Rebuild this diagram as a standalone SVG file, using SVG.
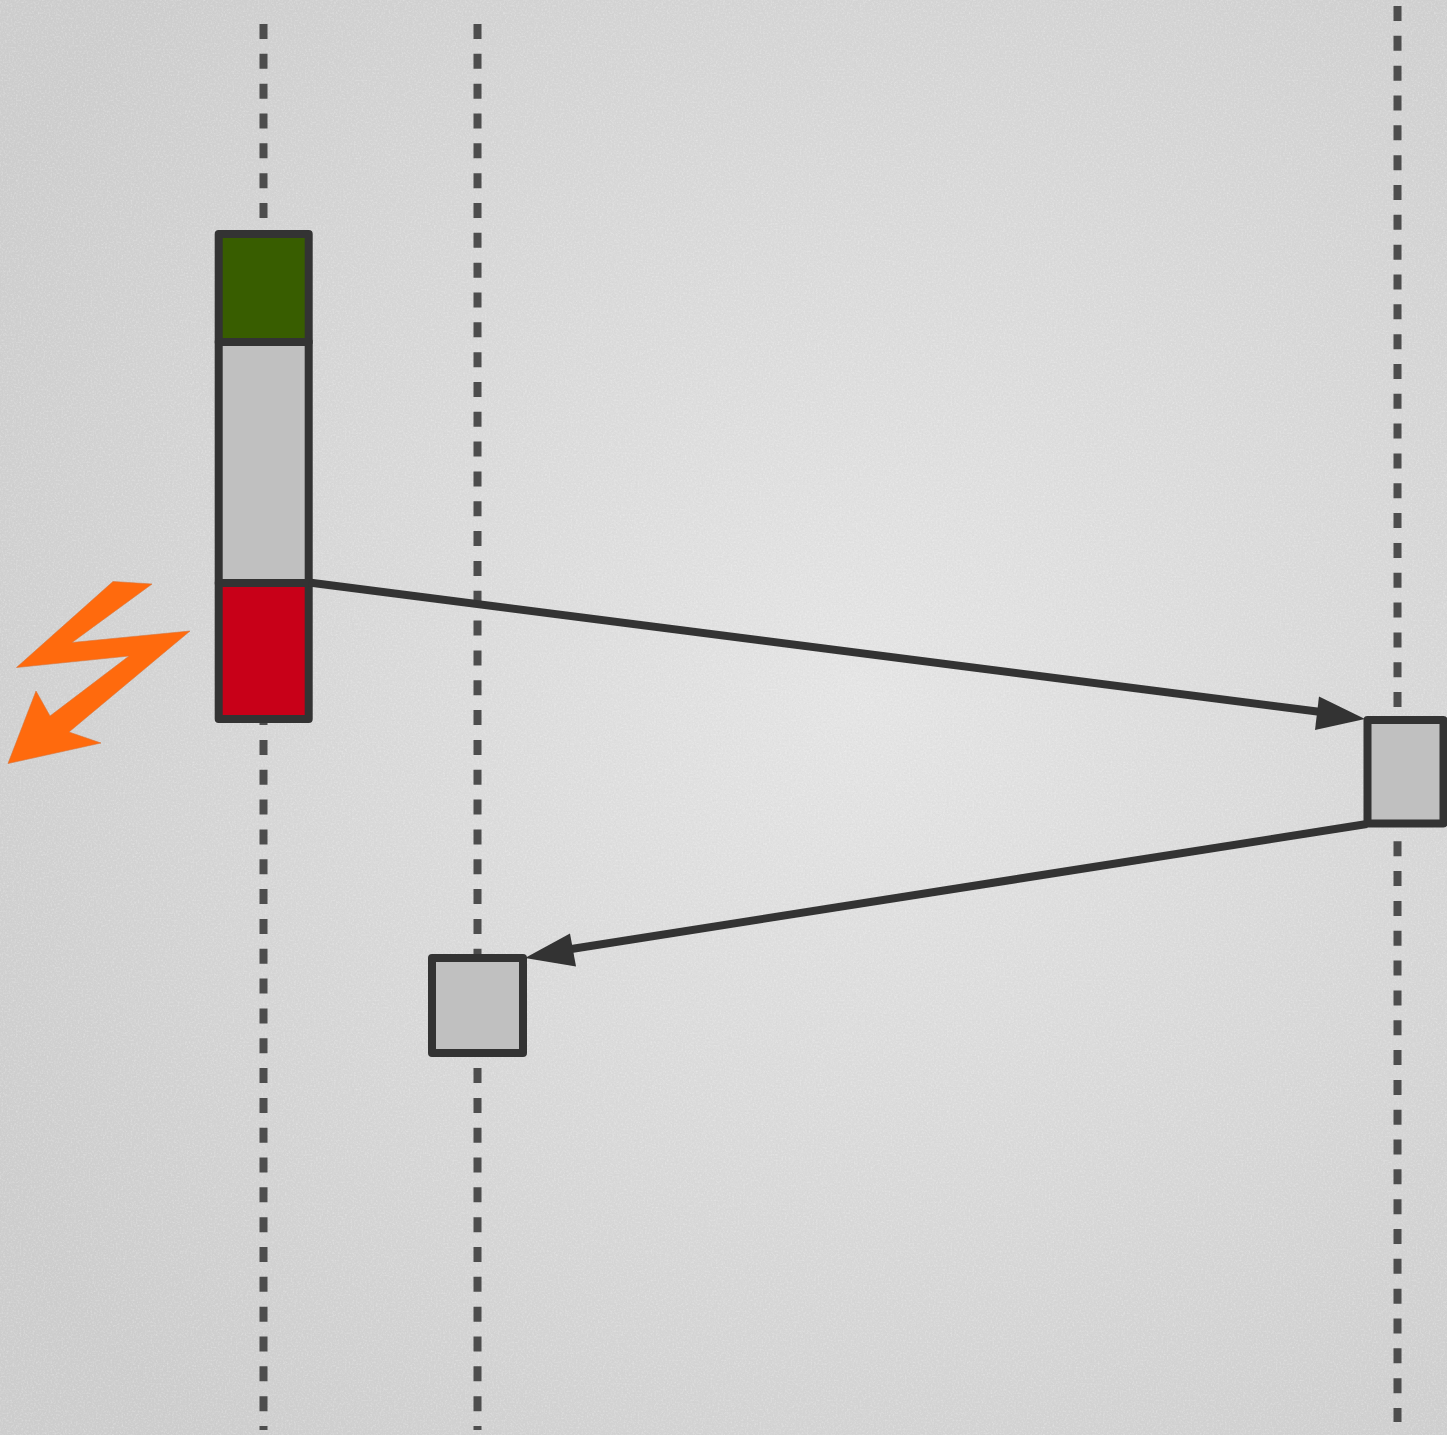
<svg xmlns="http://www.w3.org/2000/svg" width="1447" height="1435" viewBox="0 0 1447 1435">
<style>
.life{fill:none;stroke:#4d4d4d;stroke-width:8;stroke-dasharray:15 14.83}
.box{stroke:#333;stroke-width:8;stroke-linejoin:round}
.gray{fill:#c0c0c0}
.conn{fill:none;stroke:#333;stroke-width:8}
.head{fill:#333}
</style>
<defs>
<radialGradient id="bg" gradientUnits="userSpaceOnUse" cx="860" cy="690" r="1000">
<stop offset="0" stop-color="#e5e5e5"/>
<stop offset="1" stop-color="#cdcdcd"/>
</radialGradient>
<filter id="noiseLight" x="0" y="0" width="100%" height="100%">
<feTurbulence type="fractalNoise" baseFrequency="0.55" numOctaves="2" seed="3"/>
<feColorMatrix values="0 0 0 0 1 0 0 0 0 1 0 0 0 0 1 2 0 0 0 -0.9"/>
</filter>
<filter id="noiseDark" x="0" y="0" width="100%" height="100%">
<feTurbulence type="fractalNoise" baseFrequency="0.55" numOctaves="2" seed="8"/>
<feColorMatrix values="0 0 0 0 0.55 0 0 0 0 0.55 0 0 0 0 0.55 2 0 0 0 -0.9"/>
</filter>
</defs>
<g id="background">
<rect width="1447" height="1435" fill="url(#bg)"/>
<rect width="1447" height="1435" filter="url(#noiseLight)" opacity="0.3"/>
<rect width="1447" height="1435" filter="url(#noiseDark)" opacity="0.2"/>
</g>
<g id="lifelines">
<path class="life" d="M263.5 24V1430"/>
<path class="life" d="M477.500 24V1430"/>
<path class="life" d="M1397.500 6V1422"/>
</g>
<g id="bar-green"><rect class="box" x="218.700" y="234" width="90" height="108" fill="#385d00"/></g>
<g id="bar-gray"><rect class="box gray" x="218.700" y="342" width="90" height="241"/></g>
<g id="bar-red"><rect class="box" x="218.700" y="583" width="90" height="136" fill="#c80018"/></g>
<g id="box-right"><rect class="box gray" x="1367.500" y="720" width="76" height="103.500"/></g>
<g id="box-middle"><rect class="box gray" x="432" y="958" width="91" height="95"/></g>
<g id="connectors">
<path class="conn" d="M309 582.500L1325 712.500"/>
<path class="head" d="M1365 719L1319 696.500L1315 730Z"/>
<path class="conn" d="M1367 824L565 950"/>
<path class="head" d="M525 958L570 933.500L576 966.500Z"/>
</g>
<g id="lightning">
<path fill="#ff6a0d" stroke="#d8743a" stroke-width="0.6" d="M113 581.500L152 584L72 642.500L190 631L69 732L101 743L8 763.500L36 691L50 716L129 656L16.500 667.500Z"/>
</g>
</svg>
